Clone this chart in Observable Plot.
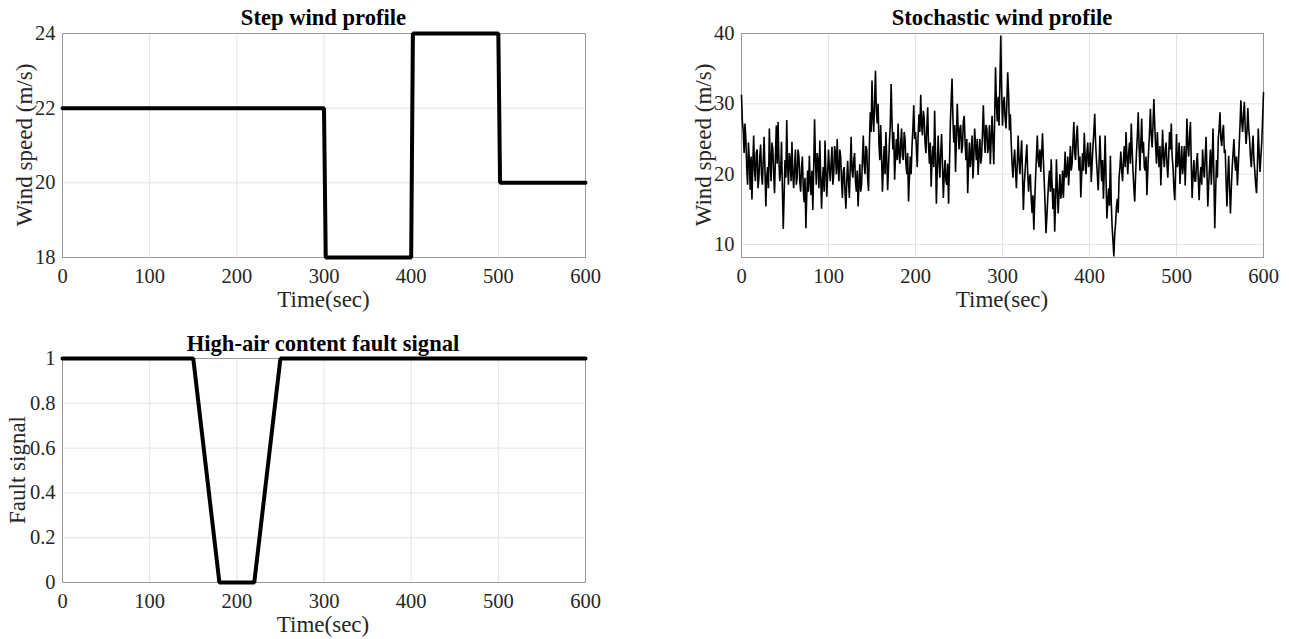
<!DOCTYPE html>
<html>
<head>
<meta charset="utf-8">
<script src="https://cdn.jsdelivr.net/npm/d3@7"></script>
<script src="https://cdn.jsdelivr.net/npm/@observablehq/plot@0.6"></script>
<style>
  body { margin: 0; background: #fff; }
  #wrap { position: relative; width: 1289px; height: 639px; background: #fff; overflow: hidden; font-family: "Liberation Serif", "Times New Roman", serif; color: #262626; }
  .panel { position: absolute; }
  .lbl { position: absolute; white-space: nowrap; transform: translate(-50%, -50%); line-height: 1; font-size: 23px; color: #262626; }
  .rot { transform: translate(-50%, -50%) rotate(-90deg); }
  .ttl { position: absolute; white-space: nowrap; transform: translate(-50%, -50%); line-height: 1; font-size: 22.6px; font-weight: bold; color: #000; }
</style>
</head>
<body>
<div id="wrap">
  <div class="ttl" style="left:323.5px; top:17.5px;">Step wind profile</div>
  <div class="ttl" style="left:1002px; top:17.5px;">Stochastic wind profile</div>
  <div class="ttl" style="left:323px; top:344px;">High-air content fault signal</div>
  <div class="lbl" style="left:323.5px; top:299px;">Time(sec)</div>
  <div class="lbl" style="left:1002px; top:299px;">Time(sec)</div>
  <div class="lbl" style="left:323px; top:624px;">Time(sec)</div>
  <div class="lbl rot" style="left:24px; top:145px;">Wind speed (m/s)</div>
  <div class="lbl rot" style="left:702.5px; top:145px;">Wind speed (m/s)</div>
  <div class="lbl rot" style="left:17px; top:470px;">Fault signal</div>
</div>
<script>
// ---- data ----
const timeTicks = [0, 100, 200, 300, 400, 500, 600];

const stepTime  = [0, 300, 302, 400, 402, 500, 502, 600];
const stepSpeed = [22, 22, 18, 18, 24, 24, 20, 20];
const stepTicks = [18, 20, 22, 24];

const faultTime  = [0, 150, 180, 220, 250, 600];
const faultValue = [1, 1, 0, 0, 1, 1];
const faultTicks = [0, 0.2, 0.4, 0.6, 0.8, 1];

const stochStep = 1; // seconds between samples
const stochSpeed = [
  31.2, 27.5, 26.2, 23.0, 27.2, 25.0, 21.0, 18.5, 24.5, 22.0,
  17.8, 22.5, 16.4, 21.5, 25.5, 20.5, 19.0, 23.0, 23.5, 18.0,
  19.5, 22.5, 24.2, 20.0, 18.5, 22.0, 25.3, 20.5, 15.4, 19.5,
  21.0, 18.0, 26.5, 22.0, 19.0, 24.5, 23.5, 20.0, 17.3, 22.5,
  26.9, 21.5, 27.4, 22.0, 19.0, 20.5, 24.6, 18.0, 12.2, 17.0,
  22.0, 19.5, 27.7, 21.0, 18.5, 23.0, 22.0, 19.0, 24.6, 20.0,
  18.0, 21.0, 23.5, 18.5, 19.5, 23.5, 22.5, 19.0, 17.5, 21.0,
  22.5, 18.0, 16.0, 19.5, 12.3, 17.0, 20.5, 17.5, 22.6, 19.0,
  17.0, 20.5, 14.9, 21.0, 27.8, 22.0, 18.5, 23.0, 22.0, 18.0,
  24.8, 20.0, 15.1, 19.0, 21.0, 17.5, 24.8, 20.5, 16.8, 20.0,
  23.5, 21.0, 19.0, 21.5, 23.9, 18.5, 20.0, 24.0, 23.0, 20.0,
  25.0, 21.0, 19.0, 23.5, 22.5, 19.0, 16.6, 20.5, 21.0, 17.5,
  15.1, 19.0, 21.9, 19.0, 16.6, 21.0, 25.3, 20.5, 19.5, 22.0,
  23.0, 19.0, 17.5, 20.5, 15.4, 18.5, 21.4, 17.5, 18.5, 22.0,
  25.5, 21.5, 20.0, 24.0, 23.5, 19.5, 17.6, 24.0, 28.8, 26.0,
  33.3, 28.0, 26.0, 30.5, 34.7, 29.0, 27.2, 30.0, 24.3, 22.0,
  27.0, 22.5, 17.5, 21.0, 24.0, 20.0, 26.0, 22.0, 17.7, 21.0,
  24.5, 27.0, 32.8, 27.5, 23.5, 26.0, 19.2, 22.5, 25.0, 22.0,
  27.2, 23.0, 21.5, 24.5, 26.5, 22.5, 22.0, 26.0, 25.0, 21.5,
  20.0, 23.0, 16.1, 19.5, 22.5, 20.0, 24.0, 26.5, 29.8, 25.0,
  26.0, 24.0, 21.0, 25.5, 28.5, 26.0, 31.3, 27.0, 25.5, 29.0,
  28.0, 24.5, 23.0, 26.5, 29.5, 24.0, 21.5, 24.5, 18.2, 22.0,
  24.0, 21.0, 29.0, 23.0, 15.8, 20.5, 25.5, 22.0, 19.5, 23.0,
  25.7, 21.5, 16.6, 20.0, 22.0, 19.0, 18.5, 21.5, 15.8, 21.0,
  27.0, 30.5, 33.6, 28.0, 24.5, 27.0, 20.3, 25.0, 30.0, 26.5,
  23.5, 26.5, 27.0, 23.0, 24.0, 27.5, 28.3, 24.5, 22.0, 25.0,
  17.3, 21.5, 24.5, 21.0, 22.5, 25.5, 19.4, 22.0, 26.5, 24.0,
  22.0, 25.0, 19.9, 23.0, 25.0, 21.5, 22.5, 26.0, 29.8, 25.5,
  23.0, 27.0, 26.5, 23.0, 24.0, 27.0, 21.4, 25.0, 28.3, 24.5,
  21.4, 28.0, 35.2, 30.0, 27.5, 31.0, 26.9, 33.0, 39.7, 32.0,
  26.9, 30.0, 31.0, 28.0, 26.5, 30.0, 34.5, 31.5, 26.2, 28.5,
  24.5, 21.5, 19.5, 22.0, 23.5, 20.5, 18.0, 21.5, 25.5, 22.0,
  20.0, 22.5, 24.8, 20.0, 14.9, 18.5, 20.5, 22.5, 24.2, 20.0,
  17.5, 19.5, 20.0, 16.5, 14.5, 17.0, 12.1, 16.0, 19.5, 22.5,
  25.5, 22.0, 21.0, 23.5, 20.3, 23.0, 25.8, 22.0, 18.9, 15.5,
  11.6, 14.0, 16.5, 19.0, 20.5, 17.5, 22.1, 18.5, 15.0, 18.0,
  11.8, 16.0, 22.1, 18.0, 14.4, 17.5, 20.0, 16.5, 17.5, 20.5,
  16.6, 20.0, 23.2, 19.5, 20.0, 22.5, 18.4, 21.0, 24.0, 20.5,
  21.5, 24.5, 27.4, 23.0, 22.0, 25.5, 26.9, 23.5, 20.5, 22.5,
  16.7, 20.0, 23.0, 20.5, 25.9, 22.5, 20.0, 23.0, 24.5, 21.0,
  21.5, 24.5, 18.9, 21.5, 24.0, 26.0, 28.6, 24.5, 22.0, 20.0,
  17.7, 21.5, 25.5, 22.0, 19.0, 22.0, 16.5, 20.5, 25.5, 19.5,
  13.7, 16.0, 18.0, 15.5, 22.6, 16.0, 12.5, 10.5, 8.3, 11.5,
  13.0, 15.5, 16.5, 14.5, 19.6, 21.0, 23.2, 20.5, 19.0, 22.0,
  24.0, 21.0, 26.0, 22.5, 20.0, 23.0, 24.5, 21.5, 27.2, 23.5,
  20.5, 18.0, 16.1, 20.0, 23.0, 25.5, 28.8, 24.0, 20.5, 24.5,
  27.9, 23.0, 24.6, 21.0, 20.5, 22.5, 17.0, 20.5, 23.5, 26.0,
  29.3, 25.5, 23.8, 27.0, 30.7, 27.0, 24.0, 21.5, 26.0, 23.0,
  21.0, 24.0, 18.4, 22.0, 26.3, 22.5, 21.0, 23.5, 24.5, 21.5,
  19.5, 22.5, 26.0, 23.5, 27.2, 22.5, 21.0, 18.0, 16.3, 20.5,
  25.7, 21.0, 22.0, 24.5, 18.6, 21.5, 24.0, 20.0, 21.5, 24.0,
  18.4, 22.5, 27.9, 24.0, 22.5, 25.5, 27.4, 21.5, 16.6, 20.0,
  22.0, 19.0, 19.0, 21.5, 23.0, 19.5, 16.3, 19.5, 21.0, 18.5,
  23.5, 21.0, 19.5, 22.5, 25.3, 20.5, 15.4, 18.5, 21.0, 23.5,
  18.5, 22.0, 26.5, 19.5, 12.3, 17.5, 22.0, 19.5, 25.0, 26.5,
  28.8, 25.0, 24.0, 26.0, 27.0, 23.0, 23.5, 19.0, 15.4, 19.5,
  22.6, 18.0, 14.4, 18.0, 21.0, 23.0, 25.0, 22.0, 20.5, 22.5,
  18.4, 21.0, 24.0, 27.0, 30.5, 27.5, 26.0, 28.5, 30.3, 26.5,
  24.3, 26.0, 29.4, 26.5, 25.0, 22.5, 21.0, 23.5, 25.5, 22.0,
  20.5, 18.5, 17.3, 21.0, 26.5, 23.0, 20.3, 22.5, 24.5, 28.0,
  31.6
];
const stochTicks = [10, 20, 30, 40];

// ---- helpers ----
const stepData  = stepTime.map((t, i) => ({t, v: stepSpeed[i]}));
const faultData = faultTime.map((t, i) => ({t, v: faultValue[i]}));
const stochData = stochSpeed.map((v, i) => ({t: i * stochStep, v}));

const style = {fontFamily: '"Liberation Serif", "Times New Roman", serif', fontSize: "20.5px", color: "#262626", background: "transparent", overflow: "visible"};
const fmt = d => String(d);

function panel({data, yDomain, yTicks, width, height, mL, mR, mT, mB, sw}) {
  return Plot.plot({
    width, height, marginLeft: mL, marginRight: mR, marginTop: mT, marginBottom: mB,
    style,
    x: {domain: [0, 600]},
    y: {domain: yDomain},
    marks: [
      Plot.gridX(timeTicks, {stroke: "#e3e3e3", strokeOpacity: 1}),
      Plot.gridY(yTicks, {stroke: "#e3e3e3", strokeOpacity: 1}),
      Plot.frame({stroke: "#9a9a9a", strokeWidth: 1}),
      Plot.axisX(timeTicks, {tickSize: 0, tickPadding: 10.5, label: null, tickFormat: fmt}),
      Plot.axisY(yTicks, {tickSize: 0, tickPadding: 7, label: null, tickFormat: fmt}),
      Plot.line(data, {x: "t", y: "v", stroke: "#000", strokeWidth: sw, strokeLinejoin: "miter"})
    ]
  });
}

function place(node, left, top) {
  node.classList.add("panel");
  node.style.left = left + "px";
  node.style.top = top + "px";
  document.getElementById("wrap").prepend(node);
}

place(panel({data: stepData, yDomain: [18, 24], yTicks: stepTicks, width: 640, height: 300, mL: 62, mR: 55, mT: 33, mB: 43, sw: 4}), 0, 0);
place(panel({data: stochData, yDomain: [8.15, 40], yTicks: stochTicks, width: 644, height: 300, mL: 96, mR: 26, mT: 33, mB: 43, sw: 1.6}), 645, 0);
place(panel({data: faultData, yDomain: [0, 1], yTicks: faultTicks, width: 640, height: 319, mL: 62, mR: 55, mT: 38, mB: 57, sw: 4}), 0, 320);
</script>
</body>
</html>
